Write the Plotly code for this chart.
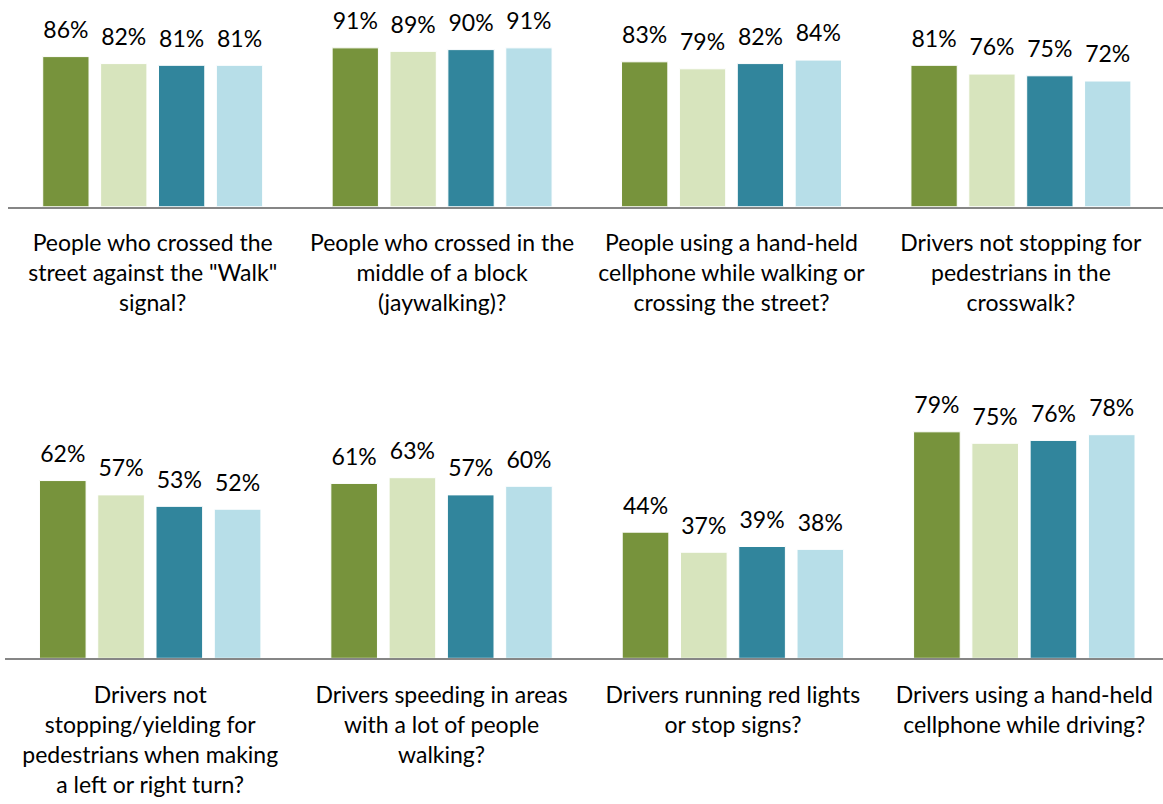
import plotly.graph_objects as go

# ---- data ----
top_categories = [
    "People who crossed the<br>street against the \"Walk\"<br>signal?",
    "People who crossed in the<br>middle of a block<br>(jaywalking)?",
    "People using a hand-held<br>cellphone while walking or<br>crossing the street?",
    "Drivers not stopping for<br>pedestrians in the<br>crosswalk?",
]
bottom_categories = [
    "Drivers not<br>stopping/yielding for<br>pedestrians when making<br>a left or right turn?",
    "Drivers speeding in areas<br>with a lot of people<br>walking?",
    "Drivers running red lights<br>or stop signs?",
    "Drivers using a hand-held<br>cellphone while driving?",
]
series_names = ["Series 1", "Series 2", "Series 3", "Series 4"]
top_s1 = [86, 91, 83, 81]
top_s2 = [82, 89, 79, 76]
top_s3 = [81, 90, 82, 75]
top_s4 = [81, 91, 84, 72]
bottom_s1 = [62, 61, 44, 79]
bottom_s2 = [57, 63, 37, 75]
bottom_s3 = [53, 57, 39, 76]
bottom_s4 = [52, 60, 38, 78]

colors = ["#77933C", "#D7E4BD", "#31859C", "#B7DEE8"]
FONT = "Lato"
FS = 23

fig = go.Figure()

rows = [
    (top_categories, [top_s1, top_s2, top_s3, top_s4], "x", "y"),
    (bottom_categories, [bottom_s1, bottom_s2, bottom_s3, bottom_s4], "x2", "y2"),
]

for cats, series, xa, ya in rows:
    for name, vals, col in zip(series_names, series, colors):
        fig.add_trace(go.Bar(
            x=cats, y=vals, name=name, xaxis=xa, yaxis=ya,
            marker=dict(color=col, line=dict(color="white", width=1)),
            showlegend=False, hoverinfo="skip",
        ))
    for name, vals in zip(series_names, series):
        fig.add_trace(go.Scatter(
            x=cats, y=vals, name=name, xaxis=xa, yaxis=ya,
            mode="markers+text",
            marker=dict(size=19, color="rgba(0,0,0,0)"),
            text=[f"{v}%" for v in vals],
            textposition="top center",
            textfont=dict(family=FONT, size=FS, color="#000000"),
            showlegend=False, hoverinfo="skip", cliponaxis=False,
        ))

axis_common = dict(
    showline=True, linecolor="#868686", linewidth=2,
    ticks="", showgrid=False, zeroline=False,
    tickfont=dict(family=FONT, size=FS, color="#000000"),
    ticklabelstandoff=15, fixedrange=True,
)
fig.update_layout(
    width=1163, height=804,
    margin=dict(l=0, r=0, t=0, b=0),
    paper_bgcolor="white", plot_bgcolor="white",
    barmode="group", bargap=0.2, bargroupgap=0.2,
    scattermode="group", scattergap=0.2,
    font=dict(family=FONT, size=FS, color="#000000"),
    xaxis=dict(domain=[8 / 1163, 1], anchor="y", range=[-0.5, 3.491], **axis_common),
    yaxis=dict(domain=[0.7429, 0.9600], anchor="x", range=[0, 100], visible=False, fixedrange=True),
    xaxis2=dict(domain=[4.5 / 1163, 1], anchor="y2", range=[-0.5, 3.476], **axis_common),
    yaxis2=dict(domain=[0.1812, 0.5378], anchor="x2", range=[0, 100], visible=False, fixedrange=True),
)

fig.write_html(
    "out.html",
    config={"displayModeBar": False},
    post_script="document.body.style.margin='0';document.body.style.overflow='hidden';",
)
